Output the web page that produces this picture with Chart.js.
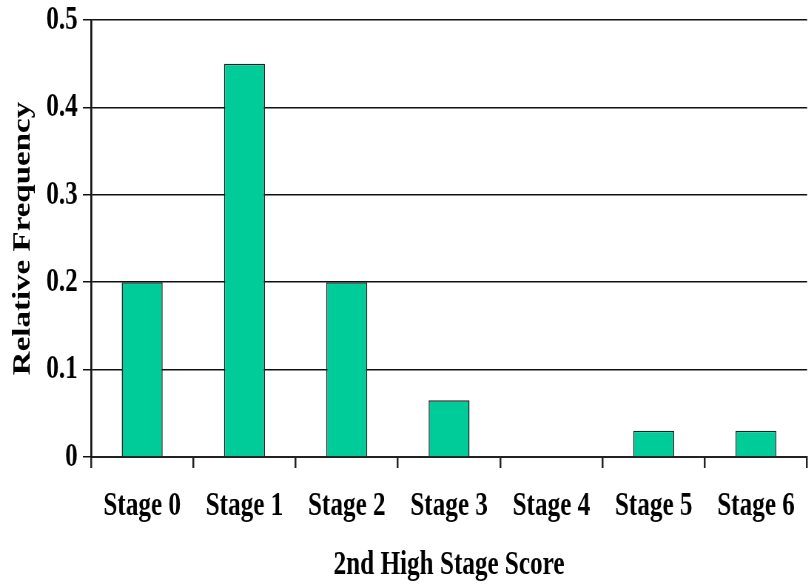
<!DOCTYPE html>
<html>
<head>
<meta charset="utf-8">
<script src="https://cdn.jsdelivr.net/npm/chart.js@4.4.0/dist/chart.umd.min.js"></script>
<style>
  html, body { margin: 0; padding: 0; overflow: hidden; background: #fff; }
  /* drawn wide, then narrowed so the serif type looks condensed */
  #stageChart { transform: scaleX(0.74); transform-origin: 0 0; display: block; }
</style>
</head>
<body>
<canvas id="stageChart" width="1092" height="586"></canvas>
<script>
const stageLabels = ["Stage 0", "Stage 1", "Stage 2", "Stage 3", "Stage 4", "Stage 5", "Stage 6"];
const relFrequency = [0.2, 0.45, 0.2, 0.065, 0, 0.03, 0.03];
const yTicks = [0, 0.1, 0.2, 0.3, 0.4, 0.5];

const serif = "'Liberation Serif', 'Times New Roman', serif";

new Chart("stageChart", {
    type: "bar",
    data: {
        labels: stageLabels,
        datasets: [{
            data: relFrequency,
            backgroundColor: "#00CC99",
            borderColor: "#222222",
            borderWidth: 1.5,
            barPercentage: 0.4,
            categoryPercentage: 1.0
        }]
    },
    options: {
        responsive: false,
        animation: false,
        layout: {
            padding: { top: 20, right: 0, bottom: 0, left: 8 }
        },
        plugins: {
            legend: { display: false },
            tooltip: { enabled: false }
        },
        scales: {
            x: {
                // fixed band under the plot for labels and title
                afterFit: function(scale) {
                    scale.height = 129;
                },
                grid: {
                    drawOnChartArea: false,
                    drawTicks: true,
                    tickLength: 11,
                    color: "#222222",
                    lineWidth: 2.5
                },
                border: { color: "#222222", width: 2 },
                ticks: {
                    color: "#000",
                    padding: 18,
                    maxRotation: 0,
                    autoSkip: false,
                    font: { family: serif, size: 34, weight: "bold" }
                },
                title: {
                    display: true,
                    text: "2nd High Stage Score",
                    color: "#000",
                    padding: { top: 18, bottom: 0 },
                    font: { family: serif, size: 34, weight: "bold" }
                }
            },
            y: {
                min: 0,
                max: 0.5,
                afterBuildTicks: function(scale) {
                    scale.ticks = yTicks.map(v => ({ value: v }));
                },
                afterFit: function(scale) {
                    scale.width = 115;
                },
                grid: {
                    color: "#111111",
                    lineWidth: 1.5,
                    tickLength: 11
                },
                border: { color: "#111111", width: 2.7 },
                ticks: {
                    color: "#000",
                    padding: 7,
                    font: { family: serif, size: 34, weight: "bold", lineHeight: 0.75 }
                },
                title: {
                    display: true,
                    text: "Relative Frequency",
                    color: "#000",
                    padding: { top: 4, bottom: 0 },
                    font: { family: serif, size: 33, weight: "bold" }
                }
            }
        }
    }
});
</script>
</body>
</html>
